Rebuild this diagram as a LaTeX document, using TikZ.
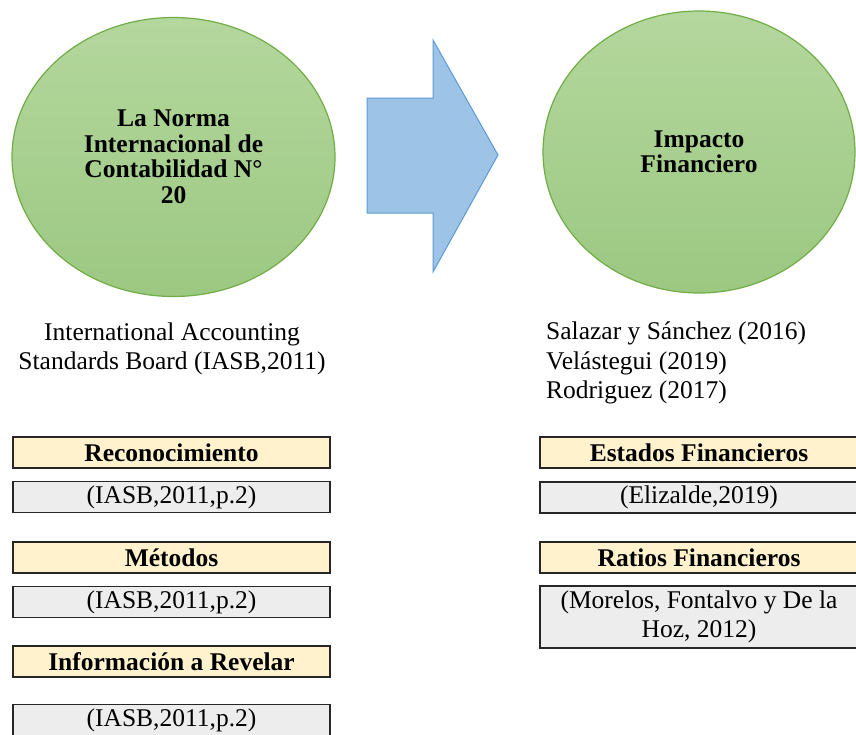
\documentclass[tikz,border=0pt]{standalone}
\usepackage{fontspec}
\setmainfont{Liberation Serif}
\usetikzlibrary{shapes.geometric}
\definecolor{bubbletop}{HTML}{B4D79D}
\definecolor{bubblebot}{HTML}{9CC882}
\definecolor{bubbleline}{HTML}{70AD47}
\definecolor{arrowfill}{HTML}{9DC3E6}
\definecolor{arrowline}{HTML}{5B9BD5}
\definecolor{headfill}{HTML}{FFF2CC}
\definecolor{citefill}{HTML}{EDEDED}
\begin{document}
\begin{tikzpicture}[x=1pt,y=-1pt,
  every node/.style={font=\fontsize{25.5}{29.5}\selectfont,inner sep=0pt},
  bubble/.style={ellipse,draw=bubbleline,line width=1.2pt,top color=bubbletop,bottom color=bubblebot,align=center,font=\fontsize{25.5}{25.5}\selectfont\bfseries},
  headbox/.style={draw=black!85,line width=1.5pt,fill=headfill,minimum width=317pt,minimum height=31pt,font=\fontsize{25.5}{29.5}\selectfont\bfseries},
  citebox/.style={draw=black!85,line width=1.5pt,fill=citefill,minimum width=317pt,minimum height=31pt,align=center}]
\useasboundingbox (0,0) rectangle (856,734);
\clip (0,0) rectangle (856,734);
\node[bubble,minimum width=323pt,minimum height=279pt] (nic) at (173.5,157) {La Norma\\Internacional de\\Contabilidad N°\\20};
\node[bubble,minimum width=312pt,minimum height=282pt] (impacto) at (699,152) {Impacto\\Financiero};
\draw[draw=arrowline,fill=arrowfill,line width=1pt] (367,98) -- (433,98) -- (433,40) -- (498,155) -- (433,272) -- (433,213) -- (367,213) -- cycle;
\node[align=center] (iasb) at (172,349) {International Accounting\\Standards Board (IASB,2011)};
\node[align=left,anchor=west] (autores) at (546,363) {Salazar y Sánchez (2016)\\Velástegui (2019)\\Rodriguez (2017)};
\node[headbox] (recon) at (171.5,452.5) {Reconocimiento};
\node[citebox] (reconcite) at (171.5,497) {(IASB,2011,p.2)};
\node[headbox] (metodos) at (171.5,557.5) {Métodos};
\node[citebox] (metodoscite) at (171.5,602) {(IASB,2011,p.2)};
\node[headbox] (revelar) at (171.5,661.5) {Información a Revelar};
\node[citebox] (revelarcite) at (171.5,720) {(IASB,2011,p.2)};
\node[headbox,minimum width=318pt] (estados) at (699,452.5) {Estados Financieros};
\node[citebox,minimum width=318pt] (estadoscite) at (699,497.5) {(Elizalde,2019)};
\node[headbox,minimum width=318pt] (ratios) at (699,557.5) {Ratios Financieros};
\node[citebox,minimum width=318pt,minimum height=62pt] (ratioscite) at (699,617) {(Morelos, Fontalvo y De la\\Hoz, 2012)};
\end{tikzpicture}
\end{document}
